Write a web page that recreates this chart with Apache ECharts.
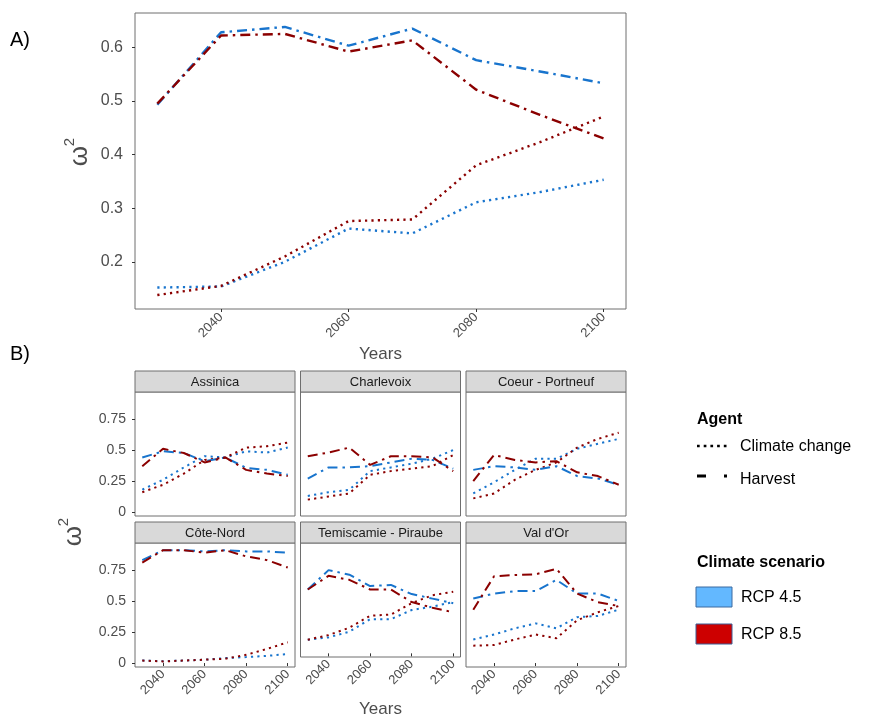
<!DOCTYPE html>
<html>
<head>
<meta charset="utf-8">
<script src="https://cdn.jsdelivr.net/npm/echarts@6/dist/echarts.min.js"></script>
<style>
  html, body { margin: 0; padding: 0; background: #fff; }
  #chart { width: 873px; height: 719px; }
</style>
</head>
<body>
<div id="chart"></div>
<script>
// ---- data ----
var years = [2030, 2040, 2050, 2060, 2070, 2080, 2090, 2100];
var xTicks = [2040, 2060, 2080, 2100];
var yTicksA = [0.2, 0.3, 0.4, 0.5, 0.6];
var yTicksB = [0, 0.25, 0.5, 0.75];
var regions = ['Assinica', 'Charlevoix', 'Coeur - Portneuf', 'Côte-Nord', 'Temiscamie - Piraube', "Val d'Or"];

// A) all regions together
var allHarvest45 = [0.493, 0.628, 0.638, 0.603, 0.635, 0.576, 0.555, 0.533];
var allHarvest85 = [0.495, 0.622, 0.625, 0.592, 0.613, 0.521, 0.474, 0.430];
var allClimate45 = [0.152, 0.154, 0.200, 0.262, 0.253, 0.311, 0.330, 0.353];
var allClimate85 = [0.138, 0.155, 0.210, 0.276, 0.279, 0.380, 0.423, 0.471];

// B) one row per region (same order as regions)
var harvest45 = [
  [0.44, 0.49, 0.476, 0.41, 0.44, 0.356, 0.34, 0.30],
  [0.27, 0.36, 0.36, 0.37, 0.40, 0.43, 0.42, 0.35],
  [0.34, 0.37, 0.36, 0.34, 0.37, 0.29, 0.27, 0.22],
  [0.83, 0.91, 0.91, 0.90, 0.91, 0.90, 0.90, 0.89],
  [0.56, 0.73, 0.69, 0.59, 0.60, 0.52, 0.48, 0.44],
  [0.52, 0.56, 0.58, 0.58, 0.67, 0.56, 0.56, 0.50]
];
var harvest85 = [
  [0.37, 0.51, 0.476, 0.40, 0.44, 0.34, 0.31, 0.29],
  [0.45, 0.48, 0.52, 0.38, 0.45, 0.45, 0.44, 0.33],
  [0.25, 0.46, 0.42, 0.40, 0.41, 0.32, 0.29, 0.22],
  [0.81, 0.91, 0.91, 0.89, 0.91, 0.86, 0.83, 0.77],
  [0.56, 0.68, 0.645, 0.56, 0.56, 0.45, 0.40, 0.36],
  [0.43, 0.70, 0.71, 0.715, 0.76, 0.56, 0.49, 0.46]
];
var climate45 = [
  [0.18, 0.26, 0.36, 0.45, 0.44, 0.49, 0.48, 0.52],
  [0.13, 0.16, 0.18, 0.33, 0.36, 0.39, 0.43, 0.50],
  [0.15, 0.24, 0.34, 0.43, 0.43, 0.51, 0.55, 0.59],
  [0.02, 0.015, 0.02, 0.027, 0.04, 0.048, 0.058, 0.072],
  [0.12, 0.14, 0.19, 0.30, 0.30, 0.38, 0.41, 0.45],
  [0.19, 0.23, 0.28, 0.32, 0.28, 0.37, 0.38, 0.43]
];
var climate85 = [
  [0.16, 0.22, 0.31, 0.42, 0.44, 0.52, 0.53, 0.56],
  [0.10, 0.125, 0.15, 0.30, 0.33, 0.35, 0.37, 0.46],
  [0.11, 0.15, 0.26, 0.34, 0.40, 0.52, 0.59, 0.64],
  [0.02, 0.013, 0.02, 0.027, 0.035, 0.066, 0.114, 0.167],
  [0.12, 0.16, 0.225, 0.33, 0.34, 0.44, 0.51, 0.54],
  [0.14, 0.145, 0.19, 0.23, 0.20, 0.345, 0.41, 0.46]
];

// ---- style ----
var FONT = 'Liberation Sans, Arial, sans-serif';
var BLUE = '#1874CD', RED = '#8B0000';
var BORDER = '#6e6e6e', TXT = '#4d4d4d';
var DOTDASH = [10, 5, 2.5, 5], DOTTED = [2.2, 4.2];

var colLeft = [135, 300.5, 466], panelW = 160;
var stripTop = [371, 522], panelTop = [392, 543], panelH = 124, stripH = 21;

function pairs(vals) {
  return years.map(function (y, i) { return [y, vals[i]]; });
}
function plain(v) { return String(v); }

function line(name, g, vals, color, dash, w) {
  return {
    name: name, type: 'line', xAxisIndex: g, yAxisIndex: g,
    data: pairs(vals), symbol: 'none', silent: true,
    lineStyle: { color: color, width: w, type: dash }
  };
}

var grids = [], xAxes = [], yAxes = [], series = [], graphics = [];

// panel A
grids.push({ left: 135, top: 13, width: 491, height: 296, show: true,
  borderColor: BORDER, borderWidth: 1, backgroundColor: '#fff' });
xAxes.push({ gridIndex: 0, type: 'value', min: 2026.5, max: 2103.5,
  axisLine: { show: false }, splitLine: { show: false },
  axisTick: { customValues: xTicks, length: 3, lineStyle: { color: '#333' } },
  axisLabel: { customValues: xTicks, formatter: plain, rotate: 45, margin: 6, fontSize: 13, color: TXT, fontFamily: FONT },
  name: 'Years', nameLocation: 'middle', nameGap: 37,
  nameTextStyle: { fontSize: 17, color: TXT, fontFamily: FONT } });
yAxes.push({ gridIndex: 0, type: 'value', min: 0.112, max: 0.664,
  axisLine: { show: false }, splitLine: { show: false },
  axisTick: { customValues: yTicksA, length: 3, lineStyle: { color: '#333' } },
  axisLabel: { customValues: yTicksA, formatter: plain, margin: 12, fontSize: 16, color: TXT, fontFamily: FONT } });
series.push(line('Climate change RCP 4.5', 0, allClimate45, BLUE, DOTTED, 2.4));
series.push(line('Climate change RCP 8.5', 0, allClimate85, RED, DOTTED, 2.4));
series.push(line('Harvest RCP 4.5', 0, allHarvest45, BLUE, DOTDASH, 2.4));
series.push(line('Harvest RCP 8.5', 0, allHarvest85, RED, DOTDASH, 2.4));

// panel B facets
regions.forEach(function (reg, i) {
  var row = Math.floor(i / 3), col = i % 3, g = i + 1;
  grids.push({ left: colLeft[col], top: panelTop[row], width: panelW, height: panelH, show: true,
    borderColor: BORDER, borderWidth: 1, backgroundColor: '#fff' });
  var xa = { gridIndex: g, type: 'value', min: 2026.5, max: 2103.5,
    axisLine: { show: false }, splitLine: { show: false },
    axisTick: { show: row === 1, customValues: xTicks, length: 3, lineStyle: { color: '#333' } },
    axisLabel: { show: row === 1, customValues: xTicks, formatter: plain, rotate: 45, margin: 5, fontSize: 13, color: TXT, fontFamily: FONT } };
  if (i === 4) {
    xa.name = 'Years'; xa.nameLocation = 'middle'; xa.nameGap = 44;
    xa.nameTextStyle = { fontSize: 17, color: TXT, fontFamily: FONT };
  }
  xAxes.push(xa);
  yAxes.push({ gridIndex: g, type: 'value', min: -0.032, max: 0.968,
    axisLine: { show: false }, splitLine: { show: false },
    axisTick: { show: col === 0, customValues: yTicksB, length: 3, lineStyle: { color: '#333' } },
    axisLabel: { show: col === 0, customValues: yTicksB, formatter: plain, margin: 9, fontSize: 14, color: TXT, fontFamily: FONT } });
  series.push(line('Climate change RCP 4.5', g, climate45[i], BLUE, DOTTED, 2));
  series.push(line('Climate change RCP 8.5', g, climate85[i], RED, DOTTED, 2));
  series.push(line('Harvest RCP 4.5', g, harvest45[i], BLUE, DOTDASH, 2));
  series.push(line('Harvest RCP 8.5', g, harvest85[i], RED, DOTDASH, 2));
  // strip
  graphics.push({ type: 'rect', shape: { x: colLeft[col], y: stripTop[row], width: panelW, height: stripH },
    style: { fill: '#d9d9d9', stroke: BORDER, lineWidth: 1 } });
  graphics.push({ type: 'text', x: colLeft[col] + panelW / 2, y: stripTop[row] + stripH / 2 + 0.5,
    style: { text: reg, fontSize: 13, fill: '#1a1a1a', fontFamily: FONT, textAlign: 'center', textVerticalAlign: 'middle' } });
});

// panel labels and omega^2 titles
graphics.push({ type: 'text', x: 10, y: 40, style: { text: 'A)', fontSize: 20, fill: '#000', fontFamily: FONT, textVerticalAlign: 'middle' } });
graphics.push({ type: 'text', x: 10, y: 354, style: { text: 'B)', fontSize: 20, fill: '#000', fontFamily: FONT, textVerticalAlign: 'middle' } });
function omega(x, y) {
  return { type: 'group', x: x, y: y, rotation: Math.PI / 2, children: [
    { type: 'text', style: { text: 'ω', fontSize: 26, fill: TXT, fontFamily: FONT, textAlign: 'center', textVerticalAlign: 'middle' } },
    { type: 'text', x: 14, y: -10, style: { text: '2', fontSize: 15, fill: TXT, fontFamily: FONT, textAlign: 'center', textVerticalAlign: 'middle' } }
  ] };
}
graphics.push(omega(80, 156));
graphics.push(omega(74, 536));

// legend
graphics.push({ type: 'text', x: 697, y: 420, style: { text: 'Agent', fontSize: 16, fontWeight: 'bold', fill: '#000', fontFamily: FONT, textVerticalAlign: 'middle' } });
graphics.push({ type: 'line', shape: { x1: 697, y1: 446, x2: 730, y2: 446 }, style: { stroke: '#000', lineWidth: 2.7, lineDash: [2.7, 4] } });
graphics.push({ type: 'text', x: 740, y: 447, style: { text: 'Climate change', fontSize: 16, fill: '#000', fontFamily: FONT, textVerticalAlign: 'middle' } });
graphics.push({ type: 'line', shape: { x1: 697, y1: 476, x2: 730, y2: 476 }, style: { stroke: '#000', lineWidth: 3, lineDash: [9, 18, 3, 20] } });
graphics.push({ type: 'text', x: 740, y: 480, style: { text: 'Harvest', fontSize: 16, fill: '#000', fontFamily: FONT, textVerticalAlign: 'middle' } });
graphics.push({ type: 'text', x: 697, y: 563, style: { text: 'Climate scenario', fontSize: 16, fontWeight: 'bold', fill: '#000', fontFamily: FONT, textVerticalAlign: 'middle' } });
graphics.push({ type: 'rect', shape: { x: 696, y: 587, width: 36, height: 20 }, style: { fill: '#63B8FF', stroke: '#3d6aa0', lineWidth: 1 } });
graphics.push({ type: 'text', x: 741, y: 598, style: { text: 'RCP 4.5', fontSize: 16, fill: '#000', fontFamily: FONT, textVerticalAlign: 'middle' } });
graphics.push({ type: 'rect', shape: { x: 696, y: 624, width: 36, height: 20 }, style: { fill: '#CD0000', stroke: '#3d5c94', lineWidth: 1 } });
graphics.push({ type: 'text', x: 741, y: 635, style: { text: 'RCP 8.5', fontSize: 16, fill: '#000', fontFamily: FONT, textVerticalAlign: 'middle' } });

var option = {
  animation: false,
  backgroundColor: '#fff',
  grid: grids,
  xAxis: xAxes,
  yAxis: yAxes,
  series: series,
  graphic: graphics
};
var myChart = echarts.init(document.getElementById('chart'));
myChart.setOption(option);
</script>
</body>
</html>
